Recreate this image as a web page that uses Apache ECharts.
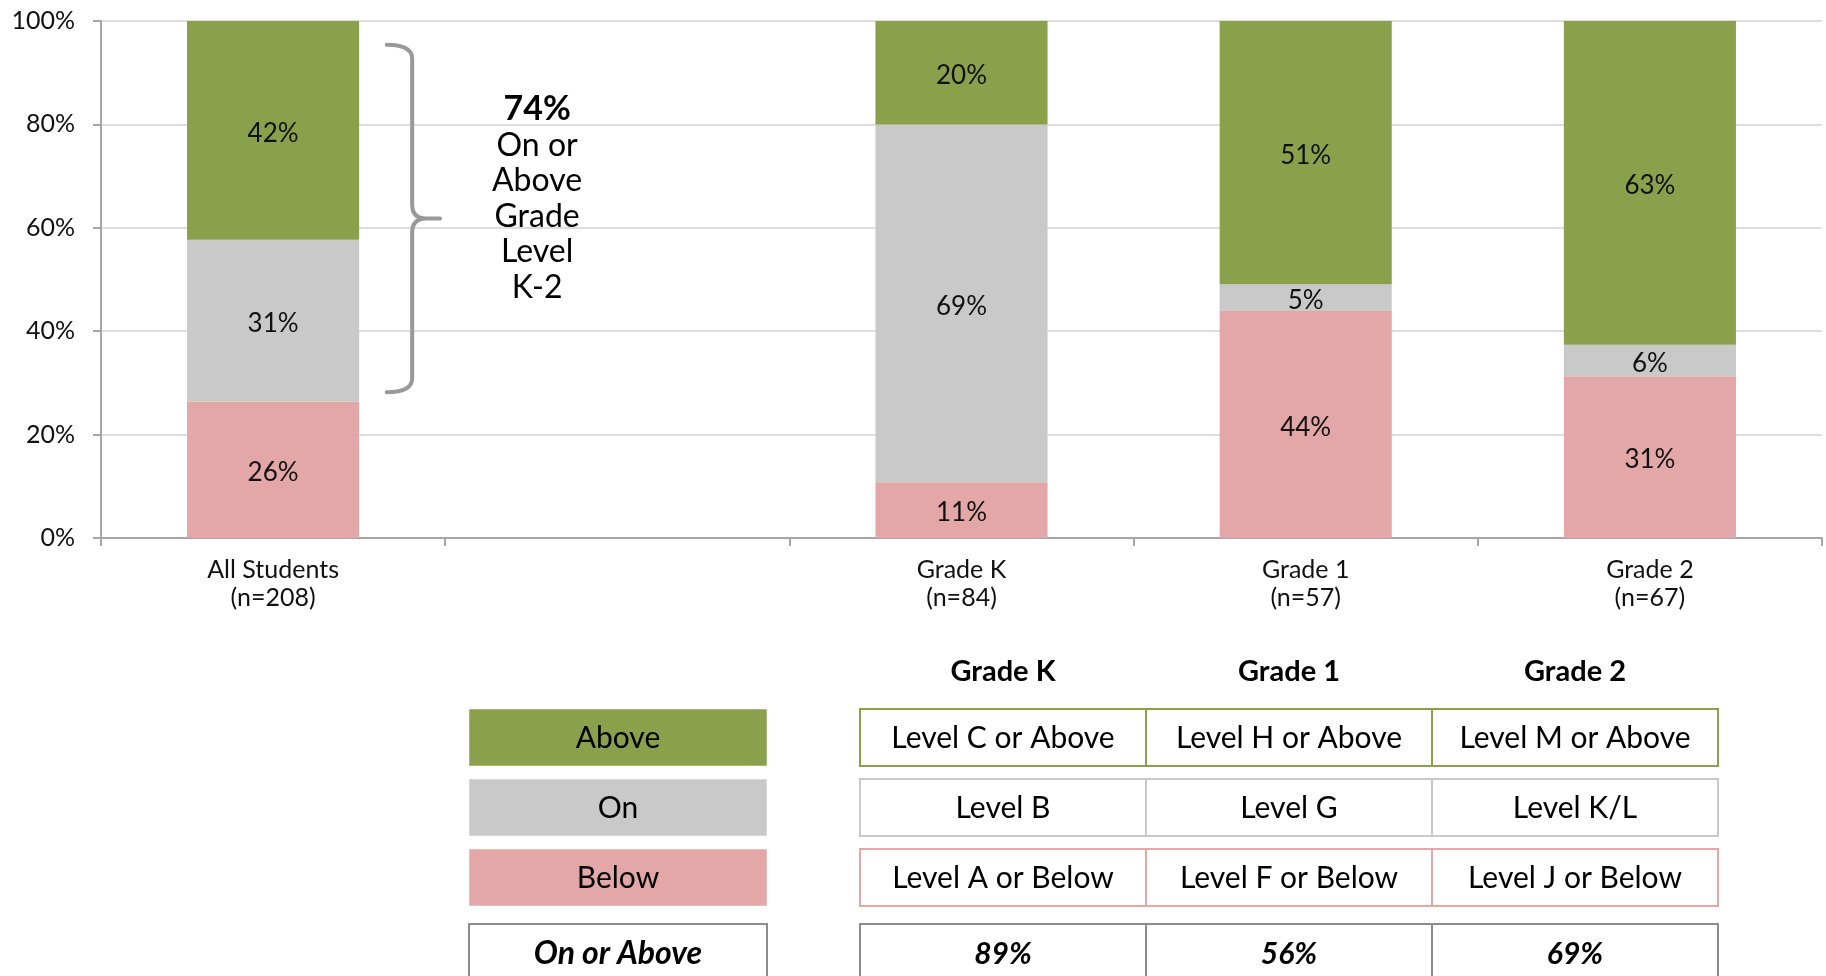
<!DOCTYPE html>
<html>
<head>
<meta charset="utf-8">
<title>Reading levels K-2</title>
<script src="https://cdn.jsdelivr.net/npm/echarts@6/dist/echarts.min.js"></script>
<style>
  html, body { margin: 0; padding: 0; background: #fff; }
  #chart { width: 1826px; height: 976px; }
</style>
</head>
<body>
<div id="chart"></div>
<script>
// categories on the x axis (blank slot keeps the gap after "All Students")
const categories = ['All Students\n(n=208)', '', 'Grade K\n(n=84)', 'Grade 1\n(n=57)', 'Grade 2\n(n=67)']

// stacked shares, percent
const belowValues = [26.4, '-', 10.8, 43.9, 31.3]
const onValues = [31.3, '-', 69.2, 5.2, 6.1]
const aboveValues = [42.3, '-', 20.0, 50.9, 62.6]

// brace next to "All Students", from / to on the y axis
const braceRange = [28.2, 95.4]
const braceText = ['On or', 'Above', 'Grade', 'Level', 'K-2']

// lookup table under the chart
const levelNames = ['Above', 'On', 'Below']
const gradeHeaders = ['Grade K', 'Grade 1', 'Grade 2']
const levelCriteria = [
  ['Level C or Above', 'Level H or Above', 'Level M or Above'],
  ['Level B', 'Level G', 'Level K/L'],
  ['Level A or Below', 'Level F or Below', 'Level J or Below'],
]
const summaryLabel = 'On or Above'
const summaryCols = [2, 3, 4] // category index for each grade column

const FONT = 'Lato, "Open Sans", sans-serif'
const GREEN = '#8AA04B'
const GRAY = '#C9C9C9'
const PINK = '#E2A7A6'
const levelColors = [GREEN, GRAY, PINK]

const pct = (v) => Math.round(v) + '%'
const onOrAbove = (i) => pct(onValues[i] + aboveValues[i])

function barSeries(name, data, color) {
  return {
    name,
    type: 'bar',
    stack: 'total',
    barWidth: '50%',
    data,
    itemStyle: { color },
    label: {
      show: true,
      position: 'inside',
      offset: [0, 3],
      color: '#111',
      fontFamily: FONT,
      fontSize: 26,
      formatter: (p) => pct(p.value),
    },
  }
}

function renderBrace(params, api) {
  const band = api.size([1, 0])[0]
  const top = api.coord([api.value(0), api.value(2)])
  const bottom = api.coord([api.value(0), api.value(1)])
  const cx = top[0]
  const x0 = cx + band * 0.33
  const xv = cx + band * 0.404
  const xt = cx + band * 0.485
  const yT = top[1]
  const yB = bottom[1]
  const yM = (yT + yB) / 2
  const r = 14
  const path = [
    `M ${x0} ${yT}`,
    `Q ${xv} ${yT} ${xv} ${yT + r}`,
    `L ${xv} ${yM - r}`,
    `Q ${xv} ${yM} ${xv + r} ${yM}`,
    `L ${xt} ${yM}`,
    `M ${xv + r} ${yM}`,
    `Q ${xv} ${yM} ${xv} ${yM + r}`,
    `L ${xv} ${yB - r}`,
    `Q ${xv} ${yB} ${x0} ${yB}`,
  ].join(' ')

  const text = '{b|' + onOrAbove(0) + '}\n' + braceText.map((t) => '{n|' + t + '}').join('\n')

  return {
    type: 'group',
    children: [
      {
        type: 'path',
        shape: { pathData: path },
        style: { stroke: '#999', lineWidth: 4, fill: null, lineCap: 'round' },
      },
      {
        type: 'text',
        x: cx + band * 0.767,
        y: yT + 46,
        style: {
          text,
          align: 'center',
          verticalAlign: 'top',
          fill: '#000',
          fontFamily: FONT,
          rich: {
            b: { fontSize: 34, fontWeight: 'bold', lineHeight: 37, fontFamily: FONT, fill: '#000' },
            n: { fontSize: 32, lineHeight: 35.5, fontFamily: FONT, fill: '#000' },
          },
        },
      },
    ],
  }
}

function buildTable() {
  const els = []
  const legendX = 469
  const legendW = 298
  const tableX = 860
  const colW = 286
  const rowTops = [709, 779, 849, 924]
  const rowH = 57
  const txt = (x, y, text, extra) => ({
    type: 'text',
    x,
    y,
    style: Object.assign({
      text,
      align: 'center',
      verticalAlign: 'middle',
      fill: '#000',
      fontFamily: FONT,
      fontSize: 30,
    }, extra || {}),
  })

  gradeHeaders.forEach((g, c) => {
    els.push(txt(tableX + colW * c + colW / 2, 672, g, { fontWeight: 'bold', fontSize: 29 }))
  })

  levelNames.forEach((name, r) => {
    const y = rowTops[r]
    els.push({
      type: 'rect',
      shape: { x: legendX, y, width: legendW, height: rowH },
      style: { fill: levelColors[r], stroke: 'rgba(255,255,255,0.5)', lineWidth: 1 },
    })
    els.push(txt(legendX + legendW / 2, y + rowH / 2 + 1, name))
    levelCriteria[r].forEach((crit, c) => {
      els.push({
        type: 'rect',
        shape: { x: tableX + colW * c, y, width: colW, height: rowH },
        style: { fill: '#fff', stroke: levelColors[r], lineWidth: 2 },
      })
      els.push(txt(tableX + colW * c + colW / 2, y + rowH / 2 + 1, crit))
    })
  })

  // summary row, runs off the bottom edge
  const y = rowTops[3]
  const boldItalic = { fontWeight: 'bold', fontStyle: 'italic', fontSize: 32 }
  els.push({
    type: 'rect',
    shape: { x: legendX, y, width: legendW, height: 70 },
    style: { fill: '#fff', stroke: '#8C8C8C', lineWidth: 2 },
  })
  els.push(txt(legendX + legendW / 2, y + 30, summaryLabel, boldItalic))
  summaryCols.forEach((idx, c) => {
    els.push({
      type: 'rect',
      shape: { x: tableX + colW * c, y, width: colW, height: 70 },
      style: { fill: '#fff', stroke: '#8C8C8C', lineWidth: 2 },
    })
    els.push(txt(tableX + colW * c + colW / 2, y + 30, onOrAbove(idx), Object.assign({}, boldItalic, { fontSize: 30 })))
  })
  return els
}

const chart = echarts.init(document.getElementById('chart'))

chart.setOption({
  animation: false,
  textStyle: { fontFamily: FONT },
  grid: { left: 101, right: 4, top: 21, bottom: 438, outerBoundsMode: 'none' },
  xAxis: {
    type: 'category',
    data: categories,
    axisLine: { lineStyle: { color: '#A6A6A6', width: 2 } },
    axisTick: { show: true, length: 8, lineStyle: { color: '#A6A6A6', width: 2 } },
    axisLabel: { color: '#111', fontFamily: FONT, fontSize: 25, lineHeight: 28, margin: 18, interval: 0 },
  },
  yAxis: {
    type: 'value',
    min: 0,
    max: 100,
    interval: 20,
    axisLine: { show: true, lineStyle: { color: '#A6A6A6', width: 2 } },
    axisTick: { show: true, length: 8, lineStyle: { color: '#A6A6A6', width: 2 } },
    axisLabel: { color: '#111', fontFamily: FONT, fontSize: 25, margin: 26, formatter: '{value}%' },
    splitLine: { lineStyle: { color: '#DEDEDE', width: 2 } },
  },
  series: [
    barSeries('Below', belowValues, PINK),
    barSeries('On', onValues, GRAY),
    barSeries('Above', aboveValues, GREEN),
    {
      type: 'custom',
      name: 'brace',
      z: 5,
      silent: true,
      renderItem: renderBrace,
      encode: { x: 0, y: [1, 2] },
      data: [[0, braceRange[0], braceRange[1]]],
    },
  ],
  graphic: buildTable(),
})

window.addEventListener('resize', () => chart.resize())
</script>
</body>
</html>
